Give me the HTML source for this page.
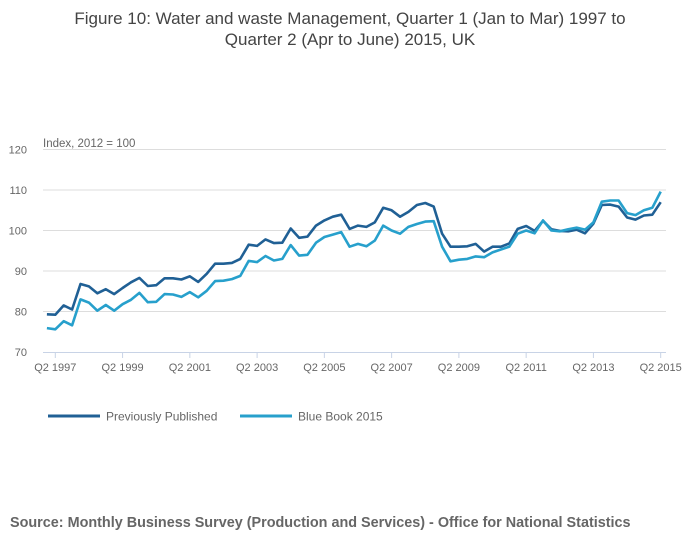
<!DOCTYPE html>
<html><head><meta charset="utf-8">
<style>
body{margin:0;background:#fff;font-family:"Liberation Sans",sans-serif;}
svg{display:block}
</style></head>
<body>
<svg width="700" height="549" id="c">
<text x="350" y="24" text-anchor="middle" font-size="17" fill="#444">Figure 10: Water and waste Management, Quarter 1 (Jan to Mar) 1997 to</text>
<text x="350" y="45" text-anchor="middle" font-size="17" fill="#444">Quarter 2 (Apr to June) 2015, UK</text>
<text x="43" y="147" font-size="11.5" fill="#666">Index, 2012 = 100</text>
<g id="grid"></g><g id="series"></g>
<g>
<line x1="48" y1="416" x2="100" y2="416" stroke="#206095" stroke-width="3"/>
<text x="106" y="420.5" font-size="12" fill="#666">Previously Published</text>
<line x1="240" y1="416" x2="292" y2="416" stroke="#27a0cc" stroke-width="3"/>
<text x="298" y="420.5" font-size="12" fill="#666">Blue Book 2015</text>
</g>
<text x="10" y="527" font-size="14.4" font-weight="bold" fill="#666">Source: Monthly Business Survey (Production and Services) - Office for National Statistics</text>
</svg>
<script>
const yTicks=[70,80,90,100,110,120];
const xTickLabels=["Q2 1997","Q2 1999","Q2 2001","Q2 2003","Q2 2005","Q2 2007","Q2 2009","Q2 2011","Q2 2013","Q2 2015"];
const xTickIndex=[1,9,17,25,33,41,49,57,65,73];
const previouslyPublished=[79.3,79.2,81.5,80.5,86.8,86.2,84.5,85.5,84.3,85.8,87.2,88.3,86.3,86.5,88.2,88.2,87.9,88.7,87.3,89.3,91.8,91.8,92.0,93.0,96.5,96.2,97.8,96.9,97.0,100.5,98.2,98.5,101.2,102.5,103.4,103.9,100.4,101.2,100.9,102.0,105.6,105.0,103.4,104.6,106.3,106.8,105.9,99.2,96.0,96.0,96.1,96.7,94.8,96.0,96.0,96.8,100.4,101.1,99.9,102.4,100.3,99.9,99.8,100.2,99.3,101.7,106.3,106.4,105.9,103.2,102.7,103.7,103.9,107.0];
const blueBook2015=[75.9,75.6,77.6,76.6,83.0,82.2,80.2,81.6,80.2,81.8,82.9,84.6,82.3,82.4,84.3,84.2,83.6,84.8,83.5,85.1,87.5,87.6,88.0,88.8,92.5,92.2,93.7,92.6,93.0,96.4,93.8,94.0,97.0,98.4,99.0,99.6,96.0,96.7,96.1,97.5,101.2,100.0,99.2,100.9,101.6,102.2,102.3,96.0,92.4,92.8,93.0,93.6,93.4,94.6,95.3,96.0,99.2,100.0,99.3,102.5,100.0,99.8,100.3,100.7,100.2,102.0,107.1,107.4,107.4,104.3,103.8,105.0,105.6,109.6];
const NS="http://www.w3.org/2000/svg";
function xS(i){return 46.9+i*8.408;}
function yS(v){return 352-(v-70)*4.05;}
const grid=document.getElementById('grid');
function mk(t,a,p){const e=document.createElementNS(NS,t);for(const k in a)e.setAttribute(k,a[k]);p.appendChild(e);return e;}
yTicks.forEach(v=>{
  if(v>70){const l=mk('line',{x1:43,x2:666,y1:yS(v),y2:yS(v),stroke:'#ddd','stroke-width':1},grid);
  
  }
  const t=mk('text',{x:27,y:yS(v)+4,'text-anchor':'end','font-size':11,fill:'#666'},grid);
  
  
  t.textContent=v;
});
const ax=mk('line',{x1:43,x2:666,y1:352.5,y2:352.5,stroke:'#c8d3e6','stroke-width':1},grid);


xTickLabels.forEach((s,k)=>{
  const x=xS(xTickIndex[k]);
  const tk=mk('line',{x1:x,x2:x,y1:352,y2:358,stroke:'#c8d3e6'},grid);
  
  
  const t=mk('text',{x:x,y:371,'text-anchor':'middle','font-size':11,fill:'#666'},grid);
  
  
  t.textContent=s;
});
const sg=document.getElementById('series');
[[previouslyPublished,'#206095','line-previously-published'],[blueBook2015,'#27a0cc','line-blue-book-2015']].forEach(([d,c,n])=>{
  const p=mk('path',{d:d.map((v,i)=>(i?'L':'M')+xS(i).toFixed(1)+','+yS(v).toFixed(1)).join(''),fill:'none',stroke:c,'stroke-width':2.6,'stroke-linejoin':'round'},sg);
  
  
});
</script>
</body></html>
